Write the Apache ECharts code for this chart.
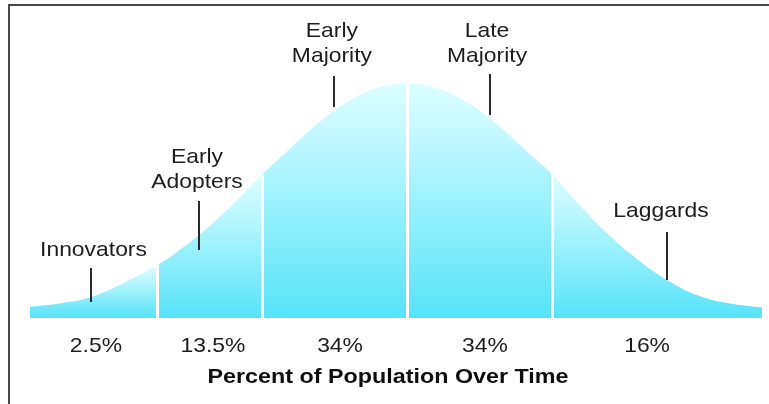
<!DOCTYPE html>
<html>
<head>
<meta charset="utf-8">
<script src="https://cdn.jsdelivr.net/npm/echarts@6/dist/echarts.min.js"></script>
<style>
  html, body { margin: 0; padding: 0; background: #fff; }
  #chart { width: 769px; height: 404px; }
</style>
</head>
<body>
<div id="chart"></div>
<script>
// Adoption curve: position in standard deviations from the mean, height relative to the peak (100)
const curveX = [-2.6, -2.4, -2.2, -2.0, -1.72, -1.6, -1.4, -1.2, -1.0, -0.8, -0.6, -0.4, -0.2, 0,
                0.2, 0.4, 0.6, 0.8, 1.0, 1.2, 1.4, 1.6, 1.8, 2.0, 2.2, 2.45];
const curveY = [4.8, 6.2, 8.5, 13.5, 22.5, 27.5, 37, 48.5, 61, 72.5, 83.5, 92.3, 98, 100,
                98, 92.3, 83.5, 72.5, 61.5, 47.5, 35, 24.5, 16, 9.8, 6.5, 4.5];

// Boundaries between adopter groups, and how high each white separator reaches
const dividers = [-1.72, -1.0, 0, 1.0];
const dividerTop = [22.5, 61, 107, 61.5];

// Adopter groups and their shares of the population
const groupNames = ['Innovators', 'Early Adopters', 'Early Majority', 'Late Majority', 'Laggards'];
const groupShares = ['2.5%', '13.5%', '34%', '34%', '16%'];
const shareX = [-2.145, -1.338, -0.461, 0.539, 1.657];

// Callout text and where it sits
const calloutText = ['Innovators', 'Early\nAdopters', 'Early\nMajority', 'Late\nMajority', 'Laggards'];
const calloutX = [-2.162, -1.448, -0.517, 0.553, 1.753];
const calloutY = [28.9, 63.2, 116.8, 116.8, 45.5];

// Pointer strokes from each callout down to the curve: [x, top, bottom]
const pointerX = [-2.179, -1.434, -0.503, 0.573, 1.795];
const pointerTop = [21.3, 49.8, 103, 103.8, 36.6];
const pointerBottom = [6.8, 28.9, 89.8, 86.4, 16.2];

const axisTitle = 'Percent of Population Over Time';

const FONT = '"Liberation Sans", Arial, Helvetica, sans-serif';

const bounds = [curveX[0]].concat(dividers, [curveX[curveX.length - 1]]);

function segmentData(lo, hi) {
  const out = [];
  for (let i = 0; i < curveX.length; i++) {
    if (curveX[i] >= lo - 1e-9 && curveX[i] <= hi + 1e-9) out.push([curveX[i], curveY[i]]);
  }
  return out;
}

const fill = new echarts.graphic.LinearGradient(0, 0, 0, 1, [
  { offset: 0, color: '#dcfeff' },
  { offset: 0.35, color: '#b2f5fd' },
  { offset: 1, color: '#56e3f9' }
]);

const series = groupNames.map((name, i) => ({
  name: name,
  type: 'line',
  smooth: 0.4,
  showSymbol: false,
  silent: true,
  lineStyle: { width: 0 },
  areaStyle: { color: fill, opacity: 1 },
  data: segmentData(bounds[i], bounds[i + 1])
}));

// White separators and dark pointer strokes
series[series.length - 1].markLine = {
  silent: true,
  symbol: ['none', 'none'],
  label: { show: false },
  animation: false,
  data: dividers.map((d, i) => [
    { coord: [d, 0], lineStyle: { color: '#ffffff', width: 3, type: 'solid' } },
    { coord: [d, dividerTop[i]] }
  ]).concat(pointerX.map((x, i) => [
    { coord: [x, pointerTop[i]], lineStyle: { color: '#2b2b2b', width: 2, type: 'solid' } },
    { coord: [x, pointerBottom[i]] }
  ]))
};

const chart = echarts.init(document.getElementById('chart'), null, { renderer: 'canvas' });

chart.setOption({
  animation: false,
  backgroundColor: '#ffffff',
  grid: { left: 30, right: 7, top: 12.5, bottom: 86 },
  xAxis: {
    type: 'value', min: -2.6, max: 2.45,
    axisLine: { show: false }, axisTick: { show: false },
    axisLabel: { show: false }, splitLine: { show: false }
  },
  yAxis: {
    type: 'value', min: 0, max: 130,
    axisLine: { show: false }, axisTick: { show: false },
    axisLabel: { show: false }, splitLine: { show: false }
  },
  series: series
});

const toPx = (x, y) => chart.convertToPixel({ gridIndex: 0 }, [x, y]);

const graphics = [
  { type: 'line', shape: { x1: 8, y1: 5, x2: 769, y2: 5 }, style: { stroke: '#474747', lineWidth: 2 } },
  { type: 'line', shape: { x1: 9, y1: 4, x2: 9, y2: 404 }, style: { stroke: '#474747', lineWidth: 2 } }
];

calloutText.forEach((t, i) => {
  const p = toPx(calloutX[i], calloutY[i]);
  graphics.push({
    type: 'text', x: p[0], y: p[1], scaleX: 1.09, silent: true, z: 10,
    style: { text: t, fill: '#1c1c1c', font: '21px ' + FONT, align: 'center', verticalAlign: 'middle', lineHeight: 25 }
  });
});

groupShares.forEach((t, i) => {
  const p = toPx(shareX[i], -11.9);
  graphics.push({
    type: 'text', x: p[0], y: p[1], scaleX: 1.09, silent: true, z: 10,
    style: { text: t, fill: '#1c1c1c', font: '21px ' + FONT, align: 'center', verticalAlign: 'middle' }
  });
});

graphics.push({
  type: 'text', x: 388, y: 377, scaleX: 1.11, silent: true, z: 10,
  style: { text: axisTitle, fill: '#0d0d0d', font: 'bold 21px ' + FONT, align: 'center', verticalAlign: 'middle' }
});

chart.setOption({ graphic: graphics });
</script>
</body>
</html>
